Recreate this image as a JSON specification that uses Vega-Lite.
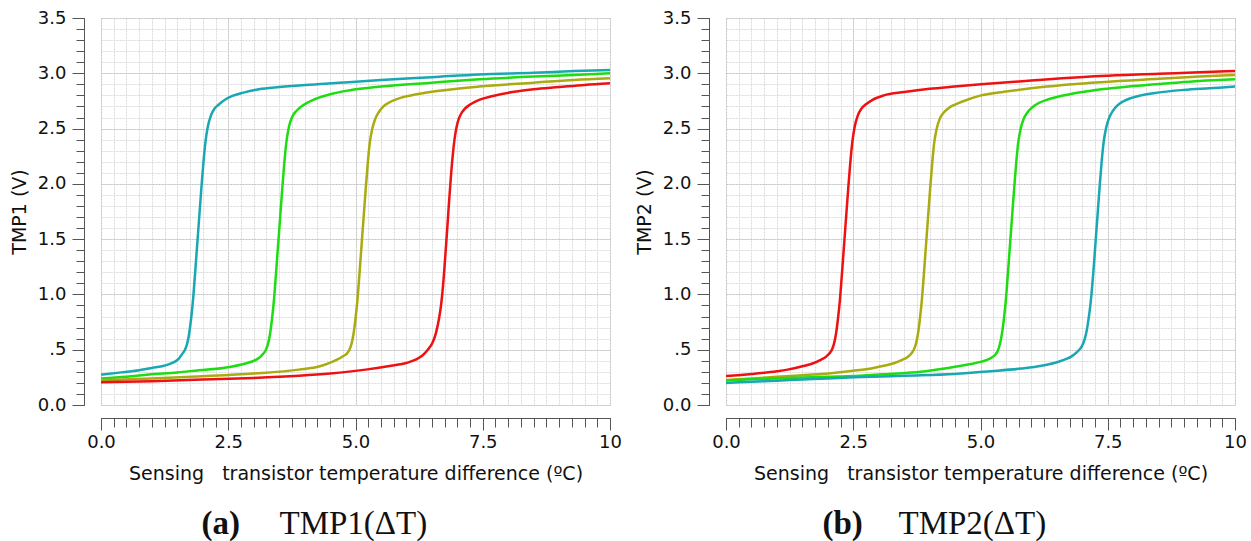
{
  "$schema": "https://vega.github.io/schema/vega-lite/v6.json",
  "background": "white",
  "padding": {"left": 10, "top": 9, "right": 5, "bottom": 5},
  "spacing": 13,
  "config": {
    "font": "DejaVu Sans",
    "view": {"stroke": null},
    "axis": {
      "domainColor": "#555555",
      "tickColor": "#555555",
      "labelColor": "#111111",
      "titleColor": "#111111",
      "labelFont": "DejaVu Sans",
      "titleFont": "DejaVu Sans",
      "labelFontSize": 18,
      "titleFontSize": 19,
      "titleFontWeight": "normal",
      "labelFlush": false,
      "labelOverlap": false
    }
  },
  "datasets": {
    "p1": [
      {"s":"c","x":0,"y":0.275},{"s":"c","x":0.4,"y":0.295},{"s":"c","x":0.75,"y":0.315},{"s":"c","x":1.0,"y":0.335},{"s":"c","x":1.24,"y":0.355},{"s":"c","x":1.4,"y":0.38},{"s":"c","x":1.53,"y":0.42},{"s":"c","x":1.6,"y":0.465},{"s":"c","x":1.65,"y":0.5},{"s":"c","x":1.69,"y":0.55},{"s":"c","x":1.73,"y":0.64},{"s":"c","x":1.77,"y":0.78},{"s":"c","x":1.81,"y":0.96},{"s":"c","x":1.85,"y":1.2},{"s":"c","x":1.89,"y":1.45},{"s":"c","x":1.93,"y":1.7},{"s":"c","x":1.97,"y":1.95},{"s":"c","x":2.01,"y":2.18},{"s":"c","x":2.05,"y":2.37},{"s":"c","x":2.1,"y":2.52},{"s":"c","x":2.16,"y":2.62},{"s":"c","x":2.23,"y":2.68},{"s":"c","x":2.32,"y":2.72},{"s":"c","x":2.45,"y":2.765},{"s":"c","x":2.58,"y":2.795},{"s":"c","x":2.8,"y":2.825},{"s":"c","x":3.1,"y":2.855},{"s":"c","x":3.5,"y":2.875},{"s":"c","x":3.89,"y":2.89},{"s":"c","x":4.4,"y":2.905},{"s":"c","x":4.87,"y":2.92},{"s":"c","x":5.5,"y":2.94},{"s":"c","x":6.5,"y":2.965},{"s":"c","x":7.43,"y":2.99},{"s":"c","x":8.5,"y":3.005},{"s":"c","x":9.3,"y":3.02},{"s":"c","x":10,"y":3.03},
      {"s":"g","x":0,"y":0.24},{"s":"g","x":0.5,"y":0.255},{"s":"g","x":0.94,"y":0.275},{"s":"g","x":1.5,"y":0.295},{"s":"g","x":1.93,"y":0.315},{"s":"g","x":2.4,"y":0.335},{"s":"g","x":2.84,"y":0.375},{"s":"g","x":3.05,"y":0.41},{"s":"g","x":3.13,"y":0.435},{"s":"g","x":3.19,"y":0.465},{"s":"g","x":3.24,"y":0.5},{"s":"g","x":3.28,"y":0.55},{"s":"g","x":3.32,"y":0.64},{"s":"g","x":3.36,"y":0.78},{"s":"g","x":3.4,"y":0.96},{"s":"g","x":3.44,"y":1.2},{"s":"g","x":3.48,"y":1.45},{"s":"g","x":3.52,"y":1.7},{"s":"g","x":3.56,"y":1.95},{"s":"g","x":3.6,"y":2.18},{"s":"g","x":3.64,"y":2.37},{"s":"g","x":3.69,"y":2.51},{"s":"g","x":3.75,"y":2.6},{"s":"g","x":3.82,"y":2.65},{"s":"g","x":3.91,"y":2.69},{"s":"g","x":4.04,"y":2.73},{"s":"g","x":4.2,"y":2.765},{"s":"g","x":4.54,"y":2.815},{"s":"g","x":4.87,"y":2.845},{"s":"g","x":5.5,"y":2.88},{"s":"g","x":6.5,"y":2.915},{"s":"g","x":7.43,"y":2.945},{"s":"g","x":8.5,"y":2.97},{"s":"g","x":9.3,"y":2.985},{"s":"g","x":10,"y":3.0},
      {"s":"o","x":0,"y":0.225},{"s":"o","x":1.0,"y":0.24},{"s":"o","x":2.0,"y":0.26},{"s":"o","x":3.0,"y":0.285},{"s":"o","x":3.89,"y":0.32},{"s":"o","x":4.3,"y":0.35},{"s":"o","x":4.54,"y":0.39},{"s":"o","x":4.7,"y":0.425},{"s":"o","x":4.77,"y":0.445},{"s":"o","x":4.83,"y":0.465},{"s":"o","x":4.88,"y":0.5},{"s":"o","x":4.92,"y":0.55},{"s":"o","x":4.96,"y":0.64},{"s":"o","x":5.0,"y":0.78},{"s":"o","x":5.04,"y":0.96},{"s":"o","x":5.08,"y":1.2},{"s":"o","x":5.12,"y":1.45},{"s":"o","x":5.16,"y":1.7},{"s":"o","x":5.2,"y":1.95},{"s":"o","x":5.24,"y":2.18},{"s":"o","x":5.28,"y":2.37},{"s":"o","x":5.33,"y":2.5},{"s":"o","x":5.39,"y":2.59},{"s":"o","x":5.46,"y":2.65},{"s":"o","x":5.55,"y":2.7},{"s":"o","x":5.68,"y":2.74},{"s":"o","x":5.9,"y":2.78},{"s":"o","x":6.2,"y":2.81},{"s":"o","x":6.7,"y":2.845},{"s":"o","x":7.43,"y":2.88},{"s":"o","x":8.5,"y":2.915},{"s":"o","x":9.3,"y":2.94},{"s":"o","x":10,"y":2.955},
      {"s":"r","x":0,"y":0.205},{"s":"r","x":1.0,"y":0.215},{"s":"r","x":2.0,"y":0.23},{"s":"r","x":3.0,"y":0.245},{"s":"r","x":3.89,"y":0.265},{"s":"r","x":4.5,"y":0.285},{"s":"r","x":5.2,"y":0.32},{"s":"r","x":5.7,"y":0.355},{"s":"r","x":6.0,"y":0.38},{"s":"r","x":6.18,"y":0.41},{"s":"r","x":6.32,"y":0.45},{"s":"r","x":6.42,"y":0.5},{"s":"r","x":6.51,"y":0.56},{"s":"r","x":6.58,"y":0.65},{"s":"r","x":6.64,"y":0.78},{"s":"r","x":6.68,"y":0.9},{"s":"r","x":6.72,"y":1.08},{"s":"r","x":6.76,"y":1.32},{"s":"r","x":6.8,"y":1.58},{"s":"r","x":6.84,"y":1.85},{"s":"r","x":6.88,"y":2.1},{"s":"r","x":6.92,"y":2.3},{"s":"r","x":6.96,"y":2.45},{"s":"r","x":7.01,"y":2.56},{"s":"r","x":7.07,"y":2.63},{"s":"r","x":7.15,"y":2.68},{"s":"r","x":7.26,"y":2.72},{"s":"r","x":7.43,"y":2.76},{"s":"r","x":7.7,"y":2.795},{"s":"r","x":8.08,"y":2.83},{"s":"r","x":8.5,"y":2.855},{"s":"r","x":9.0,"y":2.875},{"s":"r","x":9.5,"y":2.895},{"s":"r","x":10,"y":2.91}
    ],
    "p2": [
      {"s":"r","x":0,"y":0.262},{"s":"r","x":0.5,"y":0.28},{"s":"r","x":1.0,"y":0.305},{"s":"r","x":1.21,"y":0.32},{"s":"r","x":1.5,"y":0.35},{"s":"r","x":1.7,"y":0.375},{"s":"r","x":1.87,"y":0.41},{"s":"r","x":1.96,"y":0.435},{"s":"r","x":2.03,"y":0.465},{"s":"r","x":2.08,"y":0.5},{"s":"r","x":2.12,"y":0.55},{"s":"r","x":2.16,"y":0.64},{"s":"r","x":2.2,"y":0.78},{"s":"r","x":2.24,"y":0.96},{"s":"r","x":2.28,"y":1.2},{"s":"r","x":2.32,"y":1.45},{"s":"r","x":2.36,"y":1.7},{"s":"r","x":2.4,"y":1.95},{"s":"r","x":2.44,"y":2.18},{"s":"r","x":2.48,"y":2.37},{"s":"r","x":2.53,"y":2.52},{"s":"r","x":2.59,"y":2.62},{"s":"r","x":2.66,"y":2.68},{"s":"r","x":2.75,"y":2.72},{"s":"r","x":2.88,"y":2.76},{"s":"r","x":3.1,"y":2.8},{"s":"r","x":3.5,"y":2.83},{"s":"r","x":4.0,"y":2.86},{"s":"r","x":4.49,"y":2.88},{"s":"r","x":5.01,"y":2.9},{"s":"r","x":6.0,"y":2.935},{"s":"r","x":7.37,"y":2.975},{"s":"r","x":8.5,"y":2.995},{"s":"r","x":9.3,"y":3.01},{"s":"r","x":10,"y":3.02},
      {"s":"o","x":0,"y":0.226},{"s":"o","x":0.5,"y":0.24},{"s":"o","x":1.0,"y":0.255},{"s":"o","x":1.5,"y":0.27},{"s":"o","x":1.87,"y":0.28},{"s":"o","x":2.4,"y":0.305},{"s":"o","x":2.85,"y":0.33},{"s":"o","x":3.1,"y":0.355},{"s":"o","x":3.31,"y":0.38},{"s":"o","x":3.47,"y":0.41},{"s":"o","x":3.57,"y":0.435},{"s":"o","x":3.64,"y":0.465},{"s":"o","x":3.69,"y":0.5},{"s":"o","x":3.73,"y":0.55},{"s":"o","x":3.77,"y":0.64},{"s":"o","x":3.81,"y":0.78},{"s":"o","x":3.85,"y":0.96},{"s":"o","x":3.89,"y":1.2},{"s":"o","x":3.93,"y":1.45},{"s":"o","x":3.97,"y":1.7},{"s":"o","x":4.01,"y":1.95},{"s":"o","x":4.05,"y":2.18},{"s":"o","x":4.09,"y":2.37},{"s":"o","x":4.14,"y":2.5},{"s":"o","x":4.2,"y":2.59},{"s":"o","x":4.27,"y":2.64},{"s":"o","x":4.36,"y":2.68},{"s":"o","x":4.49,"y":2.715},{"s":"o","x":4.62,"y":2.74},{"s":"o","x":5.01,"y":2.8},{"s":"o","x":5.5,"y":2.835},{"s":"o","x":6.3,"y":2.88},{"s":"o","x":7.37,"y":2.92},{"s":"o","x":8.5,"y":2.95},{"s":"o","x":9.3,"y":2.97},{"s":"o","x":10,"y":2.985},
      {"s":"g","x":0,"y":0.222},{"s":"g","x":0.5,"y":0.232},{"s":"g","x":1.0,"y":0.24},{"s":"g","x":1.5,"y":0.248},{"s":"g","x":2.0,"y":0.255},{"s":"g","x":2.52,"y":0.262},{"s":"g","x":3.2,"y":0.28},{"s":"g","x":3.83,"y":0.3},{"s":"g","x":4.3,"y":0.33},{"s":"g","x":4.81,"y":0.37},{"s":"g","x":5.0,"y":0.39},{"s":"g","x":5.14,"y":0.41},{"s":"g","x":5.22,"y":0.43},{"s":"g","x":5.29,"y":0.455},{"s":"g","x":5.34,"y":0.49},{"s":"g","x":5.38,"y":0.55},{"s":"g","x":5.42,"y":0.64},{"s":"g","x":5.46,"y":0.78},{"s":"g","x":5.5,"y":0.96},{"s":"g","x":5.54,"y":1.2},{"s":"g","x":5.58,"y":1.45},{"s":"g","x":5.62,"y":1.7},{"s":"g","x":5.66,"y":1.95},{"s":"g","x":5.7,"y":2.18},{"s":"g","x":5.74,"y":2.37},{"s":"g","x":5.79,"y":2.5},{"s":"g","x":5.85,"y":2.59},{"s":"g","x":5.92,"y":2.645},{"s":"g","x":6.01,"y":2.69},{"s":"g","x":6.14,"y":2.73},{"s":"g","x":6.3,"y":2.76},{"s":"g","x":6.5,"y":2.785},{"s":"g","x":7.0,"y":2.83},{"s":"g","x":7.37,"y":2.855},{"s":"g","x":8.0,"y":2.885},{"s":"g","x":8.7,"y":2.91},{"s":"g","x":9.3,"y":2.93},{"s":"g","x":10,"y":2.945},
      {"s":"c","x":0,"y":0.2},{"s":"c","x":0.5,"y":0.21},{"s":"c","x":1.0,"y":0.22},{"s":"c","x":1.5,"y":0.23},{"s":"c","x":2.0,"y":0.24},{"s":"c","x":2.52,"y":0.25},{"s":"c","x":3.5,"y":0.265},{"s":"c","x":4.49,"y":0.28},{"s":"c","x":5.2,"y":0.305},{"s":"c","x":5.8,"y":0.33},{"s":"c","x":6.2,"y":0.355},{"s":"c","x":6.45,"y":0.38},{"s":"c","x":6.65,"y":0.41},{"s":"c","x":6.79,"y":0.44},{"s":"c","x":6.9,"y":0.48},{"s":"c","x":6.99,"y":0.53},{"s":"c","x":7.05,"y":0.6},{"s":"c","x":7.09,"y":0.68},{"s":"c","x":7.12,"y":0.77},{"s":"c","x":7.15,"y":0.87},{"s":"c","x":7.18,"y":1.0},{"s":"c","x":7.22,"y":1.22},{"s":"c","x":7.26,"y":1.47},{"s":"c","x":7.3,"y":1.72},{"s":"c","x":7.34,"y":1.97},{"s":"c","x":7.38,"y":2.2},{"s":"c","x":7.42,"y":2.38},{"s":"c","x":7.47,"y":2.51},{"s":"c","x":7.53,"y":2.6},{"s":"c","x":7.6,"y":2.66},{"s":"c","x":7.69,"y":2.71},{"s":"c","x":7.8,"y":2.745},{"s":"c","x":7.95,"y":2.775},{"s":"c","x":8.15,"y":2.8},{"s":"c","x":8.4,"y":2.82},{"s":"c","x":9.0,"y":2.85},{"s":"c","x":9.5,"y":2.865},{"s":"c","x":10,"y":2.88}
    ]
  },
  "hconcat": [
    {
      "width": 509,
      "height": 387,
      "data": {"name": "p1"},
      "resolve": {"axis": {"x": "independent", "y": "independent"}},
      "layer": [
        {
          "mark": {"type": "line", "opacity": 0},
          "encoding": {
            "x": {"field": "x", "type": "quantitative", "scale": {"domain": [0, 10], "nice": false, "zero": false},
              "axis": {"orient": "bottom", "offset": 13, "values": [0,0.25,0.5,0.75,1,1.25,1.5,1.75,2,2.25,2.5,2.75,3,3.25,3.5,3.75,4,4.25,4.5,4.75,5,5.25,5.5,5.75,6,6.25,6.5,6.75,7,7.25,7.5,7.75,8,8.25,8.5,8.75,9,9.25,9.5,9.75,10], "labels": false, "tickSize": 9, "grid": true, "gridColor": "#dadada", "gridDash": [2, 1], "title": null}},
            "y": {"field": "y", "type": "quantitative", "scale": {"domain": [0, 3.5], "nice": false},
              "axis": {"orient": "left", "offset": 17, "values": [0,0.1,0.2,0.3,0.4,0.5,0.6,0.7,0.8,0.9,1,1.1,1.2,1.3,1.4,1.5,1.6,1.7,1.8,1.9,2,2.1,2.2,2.3,2.4,2.5,2.6,2.7,2.8,2.9,3,3.1,3.2,3.3,3.4,3.5], "labels": false, "tickSize": 8, "grid": true, "gridColor": "#dadada", "gridDash": [2, 1], "title": null}},
            "detail": {"field": "s"}
          }
        },
        {
          "mark": {"type": "line", "opacity": 0},
          "encoding": {
            "x": {"field": "x", "type": "quantitative", "scale": {"domain": [0, 10], "nice": false, "zero": false},
              "axis": {"orient": "bottom", "offset": 13, "values": [0, 2.5, 5, 7.5, 10], "tickSize": 12, "labelPadding": 3, "labelExpr": "datum.value == 10 ? '10' : format(datum.value, '.1f')", "grid": true, "gridColor": "#c4c4c4", "gridDash": [2, 1], "title": "Sensing\u00a0\u00a0\u00a0transistor temperature difference (ºC)", "titlePadding": 13}},
            "y": {"field": "y", "type": "quantitative", "scale": {"domain": [0, 3.5], "nice": false},
              "axis": {"orient": "left", "offset": 17, "values": [0, 0.5, 1, 1.5, 2, 2.5, 3, 3.5], "tickSize": 12, "labelPadding": 6, "labelExpr": "datum.value == 0.5 ? '.5' : format(datum.value, '.1f')", "grid": true, "gridColor": "#c4c4c4", "gridDash": [2, 1], "title": "TMP1 (V)", "titlePadding": 8}},
            "detail": {"field": "s"}
          }
        },
        {
          "mark": {"type": "line", "opacity": 0},
          "encoding": {
            "x": {"field": "x", "type": "quantitative", "scale": {"domain": [0, 10], "nice": false, "zero": false},
              "axis": {"orient": "bottom", "offset": 0, "domain": false, "ticks": false, "labels": false, "grid": false, "title": "(a)", "titleX": 100, "titleY": 128, "titleAlign": "left", "titleBaseline": "alphabetic", "titleFont": "Liberation Serif", "titleFontWeight": "bold", "titleFontSize": 33}},
            "y": {"field": "y", "type": "quantitative", "scale": {"domain": [0, 3.5], "nice": false}, "axis": null},
            "detail": {"field": "s"}
          }
        },
        {
          "mark": {"type": "line", "opacity": 0},
          "encoding": {
            "x": {"field": "x", "type": "quantitative", "scale": {"domain": [0, 10], "nice": false, "zero": false},
              "axis": {"orient": "bottom", "offset": 0, "domain": false, "ticks": false, "labels": false, "grid": false, "title": "TMP1(ΔT)", "titleX": 178, "titleY": 128, "titleAlign": "left", "titleBaseline": "alphabetic", "titleFont": "Liberation Serif", "titleFontWeight": "normal", "titleFontSize": 33}},
            "y": {"field": "y", "type": "quantitative", "scale": {"domain": [0, 3.5], "nice": false}, "axis": null},
            "detail": {"field": "s"}
          }
        },
        {
          "mark": {"type": "line", "strokeWidth": 2.5, "interpolate": "monotone"},
          "encoding": {
            "x": {"field": "x", "type": "quantitative", "scale": {"domain": [0, 10], "nice": false, "zero": false}, "axis": null},
            "y": {"field": "y", "type": "quantitative", "scale": {"domain": [0, 3.5], "nice": false}, "axis": null},
            "color": {"field": "s", "type": "nominal", "scale": {"domain": ["c", "g", "o", "r"], "range": ["#19a8b3", "#1edc12", "#aaaa11", "#ee1111"]}, "legend": null}
          }
        }
      ]
    },
    {
      "width": 509,
      "height": 387,
      "data": {"name": "p2"},
      "resolve": {"axis": {"x": "independent", "y": "independent"}},
      "layer": [
        {
          "mark": {"type": "line", "opacity": 0},
          "encoding": {
            "x": {"field": "x", "type": "quantitative", "scale": {"domain": [0, 10], "nice": false, "zero": false},
              "axis": {"orient": "bottom", "offset": 13, "values": [0,0.25,0.5,0.75,1,1.25,1.5,1.75,2,2.25,2.5,2.75,3,3.25,3.5,3.75,4,4.25,4.5,4.75,5,5.25,5.5,5.75,6,6.25,6.5,6.75,7,7.25,7.5,7.75,8,8.25,8.5,8.75,9,9.25,9.5,9.75,10], "labels": false, "tickSize": 9, "grid": true, "gridColor": "#dadada", "gridDash": [2, 1], "title": null}},
            "y": {"field": "y", "type": "quantitative", "scale": {"domain": [0, 3.5], "nice": false},
              "axis": {"orient": "left", "offset": 17, "values": [0,0.1,0.2,0.3,0.4,0.5,0.6,0.7,0.8,0.9,1,1.1,1.2,1.3,1.4,1.5,1.6,1.7,1.8,1.9,2,2.1,2.2,2.3,2.4,2.5,2.6,2.7,2.8,2.9,3,3.1,3.2,3.3,3.4,3.5], "labels": false, "tickSize": 8, "grid": true, "gridColor": "#dadada", "gridDash": [2, 1], "title": null}},
            "detail": {"field": "s"}
          }
        },
        {
          "mark": {"type": "line", "opacity": 0},
          "encoding": {
            "x": {"field": "x", "type": "quantitative", "scale": {"domain": [0, 10], "nice": false, "zero": false},
              "axis": {"orient": "bottom", "offset": 13, "values": [0, 2.5, 5, 7.5, 10], "tickSize": 12, "labelPadding": 3, "labelExpr": "datum.value == 10 ? '10' : format(datum.value, '.1f')", "grid": true, "gridColor": "#c4c4c4", "gridDash": [2, 1], "title": "Sensing\u00a0\u00a0\u00a0transistor temperature difference (ºC)", "titlePadding": 13}},
            "y": {"field": "y", "type": "quantitative", "scale": {"domain": [0, 3.5], "nice": false},
              "axis": {"orient": "left", "offset": 17, "values": [0, 0.5, 1, 1.5, 2, 2.5, 3, 3.5], "tickSize": 12, "labelPadding": 6, "labelExpr": "datum.value == 0.5 ? '.5' : format(datum.value, '.1f')", "grid": true, "gridColor": "#c4c4c4", "gridDash": [2, 1], "title": "TMP2 (V)", "titlePadding": 8}},
            "detail": {"field": "s"}
          }
        },
        {
          "mark": {"type": "line", "opacity": 0},
          "encoding": {
            "x": {"field": "x", "type": "quantitative", "scale": {"domain": [0, 10], "nice": false, "zero": false},
              "axis": {"orient": "bottom", "offset": 0, "domain": false, "ticks": false, "labels": false, "grid": false, "title": "(b)", "titleX": 96, "titleY": 128, "titleAlign": "left", "titleBaseline": "alphabetic", "titleFont": "Liberation Serif", "titleFontWeight": "bold", "titleFontSize": 33}},
            "y": {"field": "y", "type": "quantitative", "scale": {"domain": [0, 3.5], "nice": false}, "axis": null},
            "detail": {"field": "s"}
          }
        },
        {
          "mark": {"type": "line", "opacity": 0},
          "encoding": {
            "x": {"field": "x", "type": "quantitative", "scale": {"domain": [0, 10], "nice": false, "zero": false},
              "axis": {"orient": "bottom", "offset": 0, "domain": false, "ticks": false, "labels": false, "grid": false, "title": "TMP2(ΔT)", "titleX": 172, "titleY": 128, "titleAlign": "left", "titleBaseline": "alphabetic", "titleFont": "Liberation Serif", "titleFontWeight": "normal", "titleFontSize": 33}},
            "y": {"field": "y", "type": "quantitative", "scale": {"domain": [0, 3.5], "nice": false}, "axis": null},
            "detail": {"field": "s"}
          }
        },
        {
          "mark": {"type": "line", "strokeWidth": 2.5, "interpolate": "monotone"},
          "encoding": {
            "x": {"field": "x", "type": "quantitative", "scale": {"domain": [0, 10], "nice": false, "zero": false}, "axis": null},
            "y": {"field": "y", "type": "quantitative", "scale": {"domain": [0, 3.5], "nice": false}, "axis": null},
            "color": {"field": "s", "type": "nominal", "scale": {"domain": ["c", "g", "o", "r"], "range": ["#19a8b3", "#1edc12", "#aaaa11", "#ee1111"]}, "legend": null}
          }
        }
      ]
    }
  ]
}
